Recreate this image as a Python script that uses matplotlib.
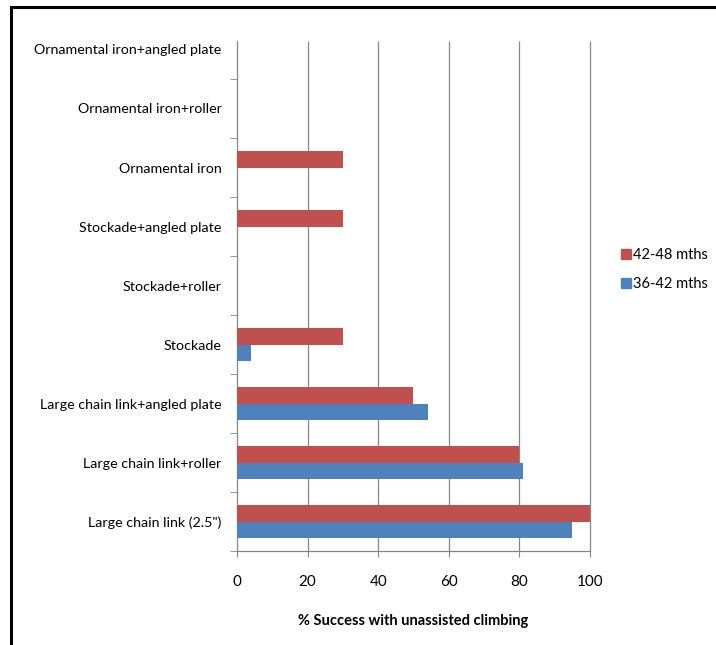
import matplotlib.pyplot as plt
import numpy as np
from matplotlib.patches import Rectangle
from matplotlib.lines import Line2D

plt.rcParams['font.family'] = ['Lato', 'DejaVu Sans']

categorias = ['Large chain link (2.5")', 'Large chain link+roller',
              'Large chain link+angled plate', 'Stockade', 'Stockade+roller',
              'Stockade+angled plate', 'Ornamental iron', 'Ornamental iron+roller',
              'Ornamental iron+angled plate']
mths_42_48 = [100, 80, 50, 30, 0, 30, 30, 0, 0]
mths_36_42 = [95, 81, 54, 4, 0, 0, 0, 0, 0]
xticks = [0, 20, 40, 60, 80, 100]

rojo = '#C0504D'
azul = '#4F81BD'
gris = '#868686'

fig = plt.figure(figsize=(7.16, 6.45), dpi=100)
ax = fig.add_axes([0.331, 0.1457, 0.493, 0.8233])

y = np.arange(len(categorias))
h = 0.275
ax.barh(y + h / 2, mths_42_48, height=h, color=rojo, label='42-48 mths', zorder=3)
ax.barh(y - h / 2, mths_36_42, height=h, color=azul, label='36-42 mths', zorder=3)

ax.set_xlim(0, 100)
ax.set_ylim(-0.5, len(categorias) - 0.5)
ax.set_xticks(xticks)
ax.set_xticklabels([str(v) for v in xticks], fontsize=11)
ax.set_yticks(y)
ax.set_yticklabels(categorias, fontsize=10.3)
ax.tick_params(axis='y', length=0, pad=11)
ax.set_yticks(np.arange(-0.5, len(categorias) - 1, 1), minor=True)
ax.tick_params(axis='y', which='minor', length=5, color=gris, direction='out')
ax.tick_params(axis='x', length=4, color=gris, pad=13)

# las lineas verticales no llegan hasta arriba del todo
tope = len(categorias) - 0.5 - 0.356
ax.vlines(xticks[1:], -0.5, tope, color=gris, linewidth=0.9, zorder=0, clip_on=False)
for lado in ['top', 'right']:
    ax.spines[lado].set_visible(False)
for lado in ['left', 'bottom']:
    ax.spines[lado].set_color(gris)
    ax.spines[lado].set_linewidth(0.9)
ax.spines['left'].set_bounds(-0.5, tope)

ax.set_xlabel('% Success with unassisted climbing', fontsize=10.5, fontweight='bold', labelpad=18)

# leyenda a la derecha
manijas = [Line2D([], [], marker='s', linestyle='', color=rojo, markersize=7),
           Line2D([], [], marker='s', linestyle='', color=azul, markersize=7)]
fig.legend(manijas, ['42-48 mths', '36-42 mths'], loc='center left',
           bbox_to_anchor=(0.866, 0.582), frameon=False, fontsize=10.5,
           handletextpad=0.1, labelspacing=1.0, handlelength=0.8,
           borderaxespad=0, borderpad=0)

# marco negro de la figura
fig.patches.append(Rectangle((11 / 716, -0.1), 1.2, 1.1 - 7 / 645,
                             transform=fig.transFigure, fill=False,
                             edgecolor='black', linewidth=2.2))

fig.savefig('out.png', dpi=100)
